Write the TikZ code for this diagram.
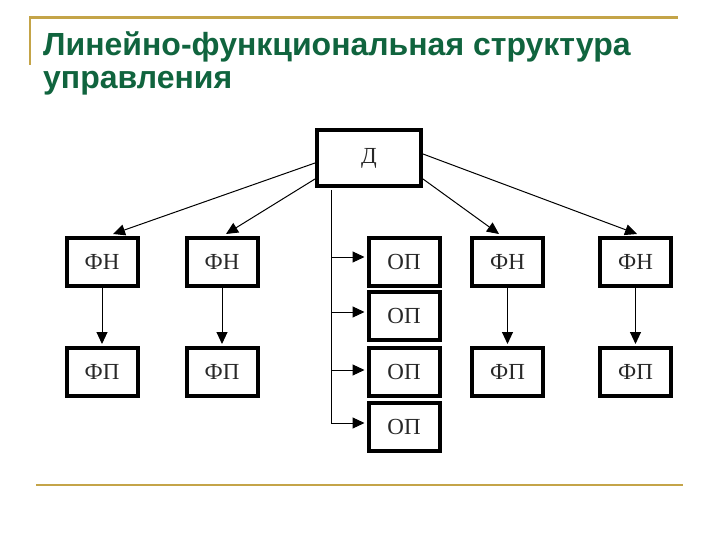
\documentclass[tikz,border=0pt]{standalone}
\usepackage{fontspec}
\setmainfont{Liberation Sans}
\newfontfamily\boxfont{Liberation Serif}
\usetikzlibrary{arrows.meta,calc}
\definecolor{titlegreen}{RGB}{16,100,62}
\definecolor{gold}{RGB}{196,164,72}
\definecolor{boxtext}{RGB}{40,40,40}
\tikzset{
  unit/.style={draw, line width=4pt, inner sep=0pt, minimum width=71pt, minimum height=48pt, text=boxtext, font=\boxfont\fontsize{23}{23}\selectfont},
  link/.style={line width=1pt, -{Triangle[length=12pt,width=11pt]}},
  plain/.style={line width=1pt},
  rule/.style={draw=gold, line width=2.2pt}
}
\begin{document}
\begin{tikzpicture}[x=1pt,y=-1pt]
\useasboundingbox (0,0) rectangle (720,540);
% decorative lines
\coordinate (tl) at (30,17.5);
\coordinate (tr) at (678,17.5);
\coordinate (vl) at (30,65);
\coordinate (bl) at (36,485);
\coordinate (br) at (683,485);
\draw[rule] (vl) -- (tl) -- (tr);
\draw[rule] (bl) -- (br);
% title
\node[anchor=base west, text=titlegreen, font=\bfseries\fontsize{32}{33}\selectfont, inner sep=0pt, align=left] (title) at (43,89) {Линейно-функциональная структура\\управления};
% boxes
\node[unit, minimum width=104pt, minimum height=56pt] (D) at (369,158) {Д};
\node[unit] (FN1) at (102,262) {ФН};
\node[unit] (FN2) at (222,262) {ФН};
\node[unit] (OP1) at (404,262) {ОП};
\node[unit] (FN3) at (507.5,262) {ФН};
\node[unit] (FN4) at (635.5,262) {ФН};
\node[unit] (FP1) at (102,372) {ФП};
\node[unit] (FP2) at (222,372) {ФП};
\node[unit] (OP2) at (404,316) {ОП};
\node[unit] (OP3) at (404,372) {ОП};
\node[unit] (OP4) at (404,426.5) {ОП};
\node[unit] (FP3) at (507.5,372) {ФП};
\node[unit] (FP4) at (635.5,372) {ФП};
% diagonal links
\draw[link] ($(D.west)+(0,5)$) -- ($(FN1.north)+(11,-2)$);
\draw[link] ($(D.south west)+(0,-9)$) -- ($(FN2.north)+(4,-2)$);
\draw[link] ($(D.east)+(0,-4)$) -- ($(FN4.north)+(1.5,-2)$);
\draw[link] ($(D.south east)+(0,-9)$) -- ($(FN3.north)+(-8.5,-2)$);
% vertical links
\draw[link] (FN1.south) -- ($(FP1.north)+(0,-2)$);
\draw[link] (FN2.south) -- ($(FP2.north)+(0,-2)$);
\draw[link] (FN3.south) -- ($(FP3.north)+(0,-2)$);
\draw[link] (FN4.south) -- ($(FP4.north)+(0,-2)$);
% trunk
\coordinate (trunkTop) at ($(D.south west)+(16,2)$);
\coordinate (trunkEnd) at (trunkTop |- 0,423);
\draw[plain] (trunkTop) -- (trunkEnd);
\draw[link] ($(trunkTop |- OP1)+(0,-5)$) -- ($(OP1.west |- OP1)+(-2,-5)$);
\draw[link] ($(trunkTop |- OP2)+(0,-4)$) -- ($(OP2.west |- OP2)+(-2,-4)$);
\draw[link] ($(trunkTop |- OP3)+(0,-2)$) -- ($(OP3.west |- OP3)+(-2,-2)$);
\draw[link] (trunkEnd) -- ($(OP4.west |- trunkEnd)+(-2,0)$);
\end{tikzpicture}
\end{document}
